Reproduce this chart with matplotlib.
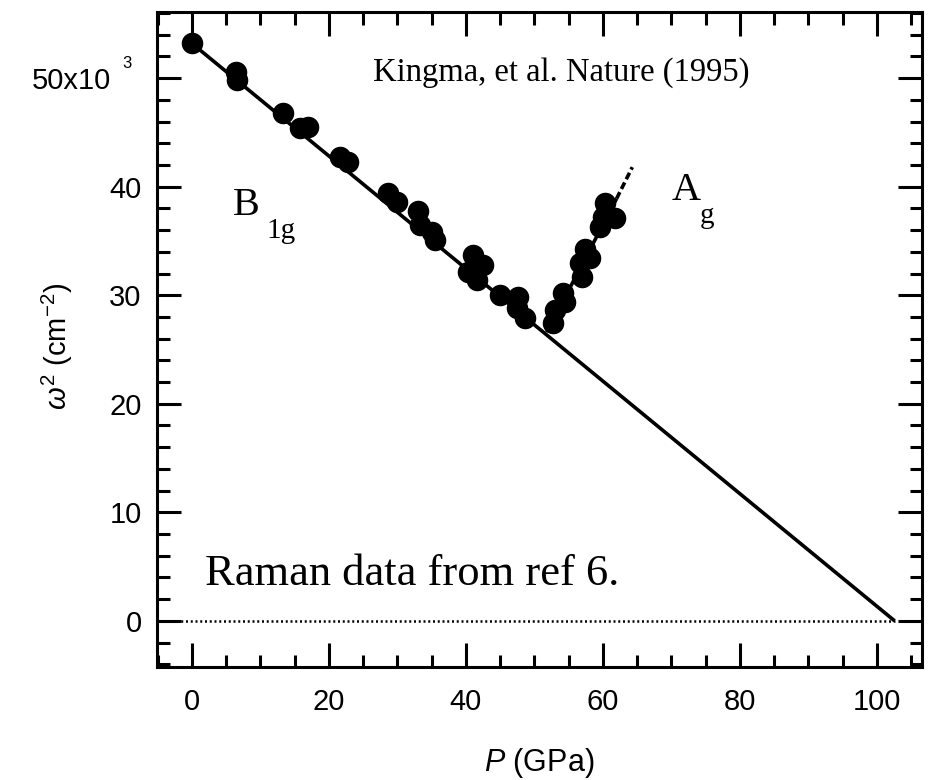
import matplotlib
matplotlib.use('Agg')
import matplotlib.pyplot as plt
from matplotlib.ticker import MultipleLocator, FixedLocator, FixedFormatter
from matplotlib.transforms import ScaledTranslation

plt.rcParams['font.family'] = 'Liberation Sans'
plt.rcParams['mathtext.fontset'] = 'custom'
plt.rcParams['mathtext.rm'] = 'Liberation Sans'
plt.rcParams['mathtext.it'] = 'Liberation Sans:italic'

# B1g mode, omega^2 in 10^3 cm^-2 vs pressure in GPa
b1g_p = [0.0, 6.4, 6.6, 13.3, 15.8, 16.9, 21.6, 22.8, 28.6, 29.9, 33.0, 33.3,
         35.0, 35.5, 41.0, 42.5, 40.3, 41.6, 45.0, 47.6, 47.4, 48.6]
b1g_w = [53.2, 50.6, 49.8, 46.8, 45.4, 45.5, 42.7, 42.3, 39.4, 38.6, 37.8, 36.5,
         35.8, 35.1, 33.7, 32.8, 32.1, 31.4, 30.0, 29.8, 28.8, 27.9]

# Ag mode
ag_p = [52.7, 53.0, 54.2, 54.5, 56.6, 56.9, 57.4, 58.1, 59.6, 60.0, 60.3, 61.8]
ag_w = [27.4, 28.6, 30.2, 29.4, 33.0, 31.7, 34.3, 33.4, 36.3, 37.2, 38.5, 37.1]

# fitted lines
b1g_fit_p = [0.0, 102.6]
b1g_fit_w = [53.2, 0.0]
ag_fit_p = [51.8, 62.0]
ag_fit_w = [26.6, 38.9]
ag_ext_p = [62.0, 64.3]
ag_ext_w = [38.9, 41.8]

yticks = [0, 10, 20, 30, 40, 50]
ylabels = ['0', '10', '20', '30', '40', '50x10']

fig = plt.figure(figsize=(9.29, 7.8), dpi=100)
ax = fig.add_axes([0.169, 0.145, 0.8235, 0.8397])

ax.plot([-5.1, b1g_fit_p[1]], [0, 0], color='black', lw=1.8, linestyle=(0, (0.8, 1.1)))
ax.plot(b1g_fit_p, b1g_fit_w, color='black', lw=2.6, solid_capstyle='butt')
ax.plot(ag_fit_p, ag_fit_w, color='black', lw=2.6, solid_capstyle='butt')
ax.plot(ag_ext_p, ag_ext_w, color='black', lw=2.6, linestyle=(0, (2, 1)))
ax.plot(b1g_p, b1g_w, 'o', color='black', ms=14.5)
ax.plot(ag_p, ag_w, 'o', color='black', ms=14.5)

ax.set_xlim(-5.1, 106.6)
ax.set_ylim(-4.24, 56.1)

ax.xaxis.set_major_locator(MultipleLocator(20))
ax.xaxis.set_minor_locator(MultipleLocator(5))
ax.yaxis.set_major_locator(FixedLocator(yticks))
ax.yaxis.set_major_formatter(FixedFormatter(ylabels))
ax.yaxis.set_minor_locator(MultipleLocator(2))

ax.tick_params(which='both', direction='in', top=True, right=True, width=2.2,
               labelsize=21)
ax.tick_params(which='major', length=17)
ax.tick_params(which='minor', length=9)
ax.tick_params(axis='x', pad=15)
ax.tick_params(axis='y', pad=11)
for s in ax.spines.values():
    s.set_linewidth(2.2)

# push "50x10" left to leave room for its exponent
lbl50 = ax.yaxis.get_major_ticks()[5].label1
lbl50.set_transform(lbl50.get_transform() + ScaledTranslation(-0.31, 0, fig.dpi_scale_trans))
ax.annotate('3', xy=(0, 50), xycoords=('axes fraction', 'data'),
            xytext=(-30, 15), textcoords='offset pixels',
            ha='center', va='center', fontsize=12)

ax.set_xlabel('$P$ (GPa)', fontsize=22)
ax.xaxis.set_label_coords(0.5, -0.121)
ax.set_ylabel(r'$\omega^2$ (cm$^{-2}$)', fontsize=21)
ax.yaxis.set_label_coords(-0.107, 0.49)

serif = 'Liberation Serif'
ax.text(26.4, 49.8, 'Kingma, et al. Nature (1995)', family=serif, fontsize=23.5)
ax.text(6.0, 37.4, 'B', family=serif, fontsize=29)
ax.text(10.9, 35.3, '1g', family=serif, fontsize=21)
ax.text(70.1, 38.8, 'A', family=serif, fontsize=29)
ax.text(74.2, 36.7, 'g', family=serif, fontsize=21)
ax.text(1.9, 3.3, 'Raman data from ref 6.', family=serif, fontsize=32)

fig.savefig('out.png', dpi=100)
